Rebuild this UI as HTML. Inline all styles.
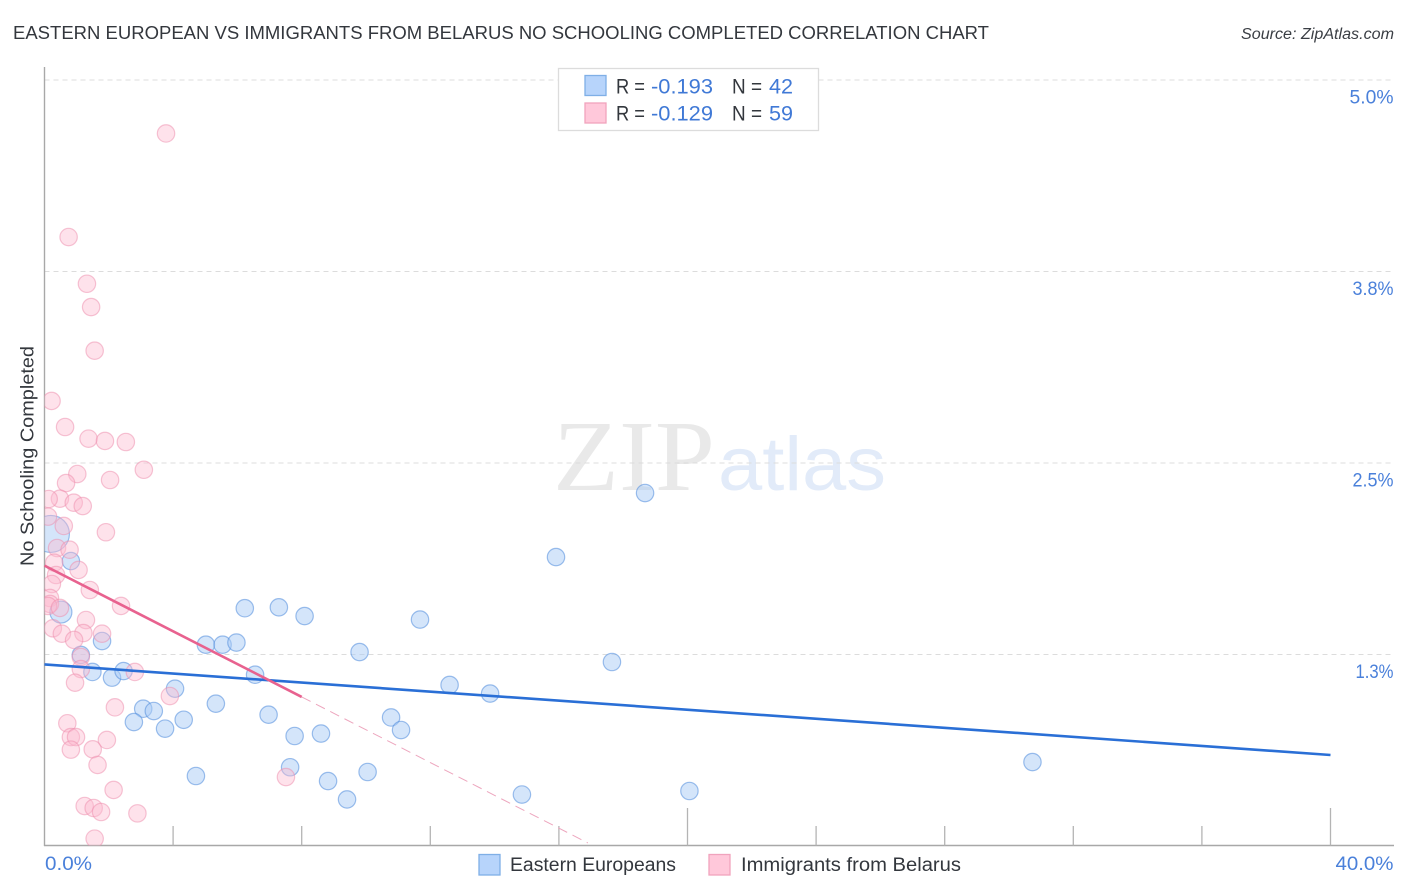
<!DOCTYPE html>
<html lang="en">
<head>
<meta charset="utf-8">
<title>Eastern European vs Immigrants from Belarus No Schooling Completed Correlation Chart</title>
<style>
html,body{margin:0;padding:0;background:#fff;width:1406px;height:892px;overflow:hidden}
svg{display:block;font-family:"Liberation Sans",sans-serif}
</style>
</head>
<body>
<svg id="chart" xmlns="http://www.w3.org/2000/svg" width="1406" height="892" viewBox="0 0 1406 892">
  <defs><clipPath id="plot-clip"><rect x="44.5" y="60" width="1350" height="785.5"/></clipPath></defs>
  <rect x="0" y="0" width="1406" height="892" fill="#fff"/>
  <text x="13" y="39" font-size="18.6" fill="#33373d" textLength="976" lengthAdjust="spacingAndGlyphs">EASTERN EUROPEAN VS IMMIGRANTS FROM BELARUS NO SCHOOLING COMPLETED CORRELATION CHART</text>
  <text x="1394" y="39" font-size="15.4" font-style="italic" fill="#3a3e44" text-anchor="end" textLength="153" lengthAdjust="spacingAndGlyphs">Source: ZipAtlas.com</text>
  <text transform="translate(33.5,566) rotate(-90)" font-size="18.6" fill="#33373d" textLength="220" lengthAdjust="spacingAndGlyphs">No Schooling Completed</text>
  <g>
    <text x="553" y="490" font-family="'Liberation Serif',serif" font-size="101" fill="#e9e9e9" textLength="162" lengthAdjust="spacingAndGlyphs">ZIP</text>
    <text x="718" y="490" font-size="76" fill="#e2ebf9" textLength="168" lengthAdjust="spacingAndGlyphs">atlas</text>
  </g>
  <g id="grid"></g>
  <g id="axes"></g>
  <g id="blue-points" clip-path="url(#plot-clip)"></g>
  <g id="pink-points" clip-path="url(#plot-clip)"></g>
  <g id="trends"></g>
  <g>
    <rect x="558.5" y="68.5" width="260" height="62" fill="#fff" stroke="#dcdcdc" stroke-width="1.3"/>
    <rect x="585" y="75.5" width="21" height="20" fill="#b7d4fb" stroke="#7fafe6" stroke-width="1.3"/>
    <rect x="585" y="103" width="21" height="20" fill="#ffc8da" stroke="#f0a3bd" stroke-width="1.3"/>
    <g font-size="21">
      <text x="616" y="93.5" fill="#33373d" textLength="29" lengthAdjust="spacingAndGlyphs">R =</text>
      <text x="651" y="93.5" fill="#4079d6" textLength="62" lengthAdjust="spacingAndGlyphs">-0.193</text>
      <text x="732" y="93.5" fill="#33373d" textLength="30" lengthAdjust="spacingAndGlyphs">N =</text>
      <text x="769" y="93.5" fill="#4079d6" textLength="24" lengthAdjust="spacingAndGlyphs">42</text>
      <text x="616" y="120.5" fill="#33373d" textLength="29" lengthAdjust="spacingAndGlyphs">R =</text>
      <text x="651" y="120.5" fill="#4079d6" textLength="62" lengthAdjust="spacingAndGlyphs">-0.129</text>
      <text x="732" y="120.5" fill="#33373d" textLength="30" lengthAdjust="spacingAndGlyphs">N =</text>
      <text x="769" y="120.5" fill="#4079d6" textLength="24" lengthAdjust="spacingAndGlyphs">59</text>
    </g>
  </g>
  <g>
    <rect x="479" y="854.5" width="21" height="20.5" fill="#b7d4fb" stroke="#7fafe6" stroke-width="1.3"/>
    <text x="510" y="871" font-size="19.6" fill="#33373d" textLength="166" lengthAdjust="spacingAndGlyphs">Eastern Europeans</text>
    <rect x="709" y="854.5" width="21" height="20.5" fill="#ffc8da" stroke="#f0a3bd" stroke-width="1.3"/>
    <text x="741" y="871" font-size="19.6" fill="#33373d" textLength="220" lengthAdjust="spacingAndGlyphs">Immigrants from Belarus</text>
  </g>
</svg>
<script>
const blueX = [0.20,0.51,0.82,1.13,1.79,1.49,2.10,2.46,4.06,3.07,3.40,2.78,3.75,4.33,4.71,5.33,5.02,5.54,5.97,6.23,7.29,8.09,6.55,6.97,7.78,8.60,7.64,8.82,9.41,10.05,9.80,10.78,11.09,11.68,12.60,13.86,14.85,15.91,17.65,18.68,20.06,30.73];
const blueY = [2.037,1.527,1.860,1.247,1.338,1.136,1.099,1.142,1.027,0.896,0.881,0.809,0.766,0.824,0.457,0.929,1.314,1.314,1.328,1.552,1.558,1.501,1.118,0.857,0.718,0.734,0.514,0.424,0.304,0.483,1.266,0.839,0.757,1.478,1.051,0.995,0.336,1.886,1.201,2.304,0.359,0.548];
const blueWeight = [18.5,11,8.7,8.7,8.7,8.7,8.7,8.7,8.7,8.7,8.7,8.7,8.7,8.7,8.7,8.7,8.7,8.7,8.7,8.7,8.7,8.7,8.7,8.7,8.7,8.7,8.7,8.7,8.7,8.7,8.7,8.7,8.7,8.7,8.7,8.7,8.7,8.7,8.7,8.7,8.7,8.7];
const pinkX = [0.22,0.64,1.37,1.88,2.53,3.09,1.02,2.04,0.67,0.48,0.13,0.91,1.19,0.11,0.60,1.91,0.39,0.78,0.30,1.06,0.36,0.23,1.41,2.38,0.17,0.17,0.11,0.48,1.29,0.26,0.54,1.21,1.79,0.92,1.13,1.13,0.95,2.81,3.90,2.19,0.71,0.82,0.98,1.94,0.82,1.50,1.65,2.15,1.25,1.53,1.76,2.89,1.56,7.51,3.78,0.75,1.32,1.45,1.56];
const pinkY = [2.905,2.735,2.659,2.644,2.637,2.456,2.428,2.389,2.369,2.267,2.265,2.241,2.219,2.150,2.089,2.048,1.945,1.934,1.849,1.802,1.769,1.710,1.671,1.567,1.619,1.580,1.567,1.554,1.475,1.421,1.386,1.390,1.386,1.345,1.234,1.155,1.066,1.136,0.979,0.905,0.801,0.711,0.711,0.692,0.629,0.631,0.529,0.366,0.261,0.248,0.222,0.213,0.048,0.450,4.651,3.975,3.670,3.518,3.233];
const yTickValues = [1.25,2.5,3.75,5];
const yTickLabels = ["1.3%","2.5%","3.8%","5.0%"];
const xTickValues = [4,8,12,16,20,24,28,32,36,40];
const xMajorTicks = [20,40];
const xEndLabels = ["0.0%","40.0%"];
const blueTrendX = [0,40];
const blueTrendY = [1.185,0.594];
const pinkTrendX = [0,8];
const pinkTrendY = [1.83,0.973];
const pinkDashX = [8,16.9];
const pinkDashY = [0.973,0.02];

const NS = 'http://www.w3.org/2000/svg';
function sx(v){ return 44.5 + v * 32.15; }
function sy(v){ return 846 - v * 153.2; }
function make(tag, attrs, parent){
  const el = document.createElementNS(NS, tag);
  for (const k in attrs) el.setAttribute(k, attrs[k]);
  parent.appendChild(el);
  return el;
}
const gridG = document.getElementById('grid');
const axesG = document.getElementById('axes');
const trendsG = document.getElementById('trends');

yTickValues.forEach(function(v, i){
  const line = make('line', {x1:44.5, x2:1394, y1:sy(v), y2:sy(v), stroke:'#dcdcdc', 'stroke-width':1, 'stroke-dasharray':'5 4'}, gridG);
  
  
  const label = yTickLabels[i];
  const labelWidth = label.charAt(0) === '1' ? 38 : (label.charAt(0) === '5' ? 44 : 41);
  const t = make('text', {x:1393.5, y:sy(v)+23.5, 'text-anchor':'end', 'font-size':19.6, fill:'#4a80da', textLength:labelWidth, lengthAdjust:'spacingAndGlyphs'}, axesG);
  t.textContent = label;
  
  
});

const yAxis = make('line', {x1:44.5, x2:44.5, y1:67, y2:846, stroke:'#a8a8a8', 'stroke-width':1.4}, axesG);


const xAxis = make('line', {x1:44, x2:1394, y1:845.5, y2:845.5, stroke:'#a8a8a8', 'stroke-width':1.4}, axesG);



xTickValues.forEach(function(v){
  const top = xMajorTicks.indexOf(v) >= 0 ? 808 : 826;
  const tick = make('line', {x1:sx(v), x2:sx(v), y1:top, y2:845.5, stroke:'#b4b4b4', 'stroke-width':1.3}, axesG);
  
  
});

const xLabelStart = make('text', {x:45, y:870, 'font-size':19.6, fill:'#4a80da', textLength:47, lengthAdjust:'spacingAndGlyphs'}, axesG);
xLabelStart.textContent = xEndLabels[0];


const xLabelEnd = make('text', {x:1393.5, y:870, 'font-size':19.6, fill:'#4a80da', 'text-anchor':'end', textLength:58, lengthAdjust:'spacingAndGlyphs'}, axesG);
xLabelEnd.textContent = xEndLabels[1];



const blueG = document.getElementById('blue-points');
blueX.forEach(function(v, i){
  const c = make('circle', {cx:sx(v), cy:sy(blueY[i]), r:blueWeight[i], fill:'rgba(170,204,245,0.5)', stroke:'rgba(80,140,220,0.55)', 'stroke-width':1.2}, blueG);
  
  
});
const pinkG = document.getElementById('pink-points');
pinkX.forEach(function(v, i){
  const c = make('circle', {cx:sx(v), cy:sy(pinkY[i]), r:8.7, fill:'rgba(252,185,208,0.42)', stroke:'rgba(238,140,172,0.5)', 'stroke-width':1.2}, pinkG);
  
  
});

const blueTrend = make('line', {x1:sx(blueTrendX[0]), y1:sy(blueTrendY[0]), x2:sx(blueTrendX[1]), y2:sy(blueTrendY[1]), stroke:'#2a6fd6', 'stroke-width':2.6}, trendsG);


const pinkTrend = make('line', {x1:sx(pinkTrendX[0]), y1:sy(pinkTrendY[0]), x2:sx(pinkTrendX[1]), y2:sy(pinkTrendY[1]), stroke:'#e8628f', 'stroke-width':2.6}, trendsG);


const pinkDash = make('line', {x1:sx(pinkDashX[0]), y1:sy(pinkDashY[0]), x2:sx(pinkDashX[1]), y2:sy(pinkDashY[1]), stroke:'#eda6be', 'stroke-width':1, 'stroke-dasharray':'10 6'}, trendsG);


</script>
</body>
</html>
